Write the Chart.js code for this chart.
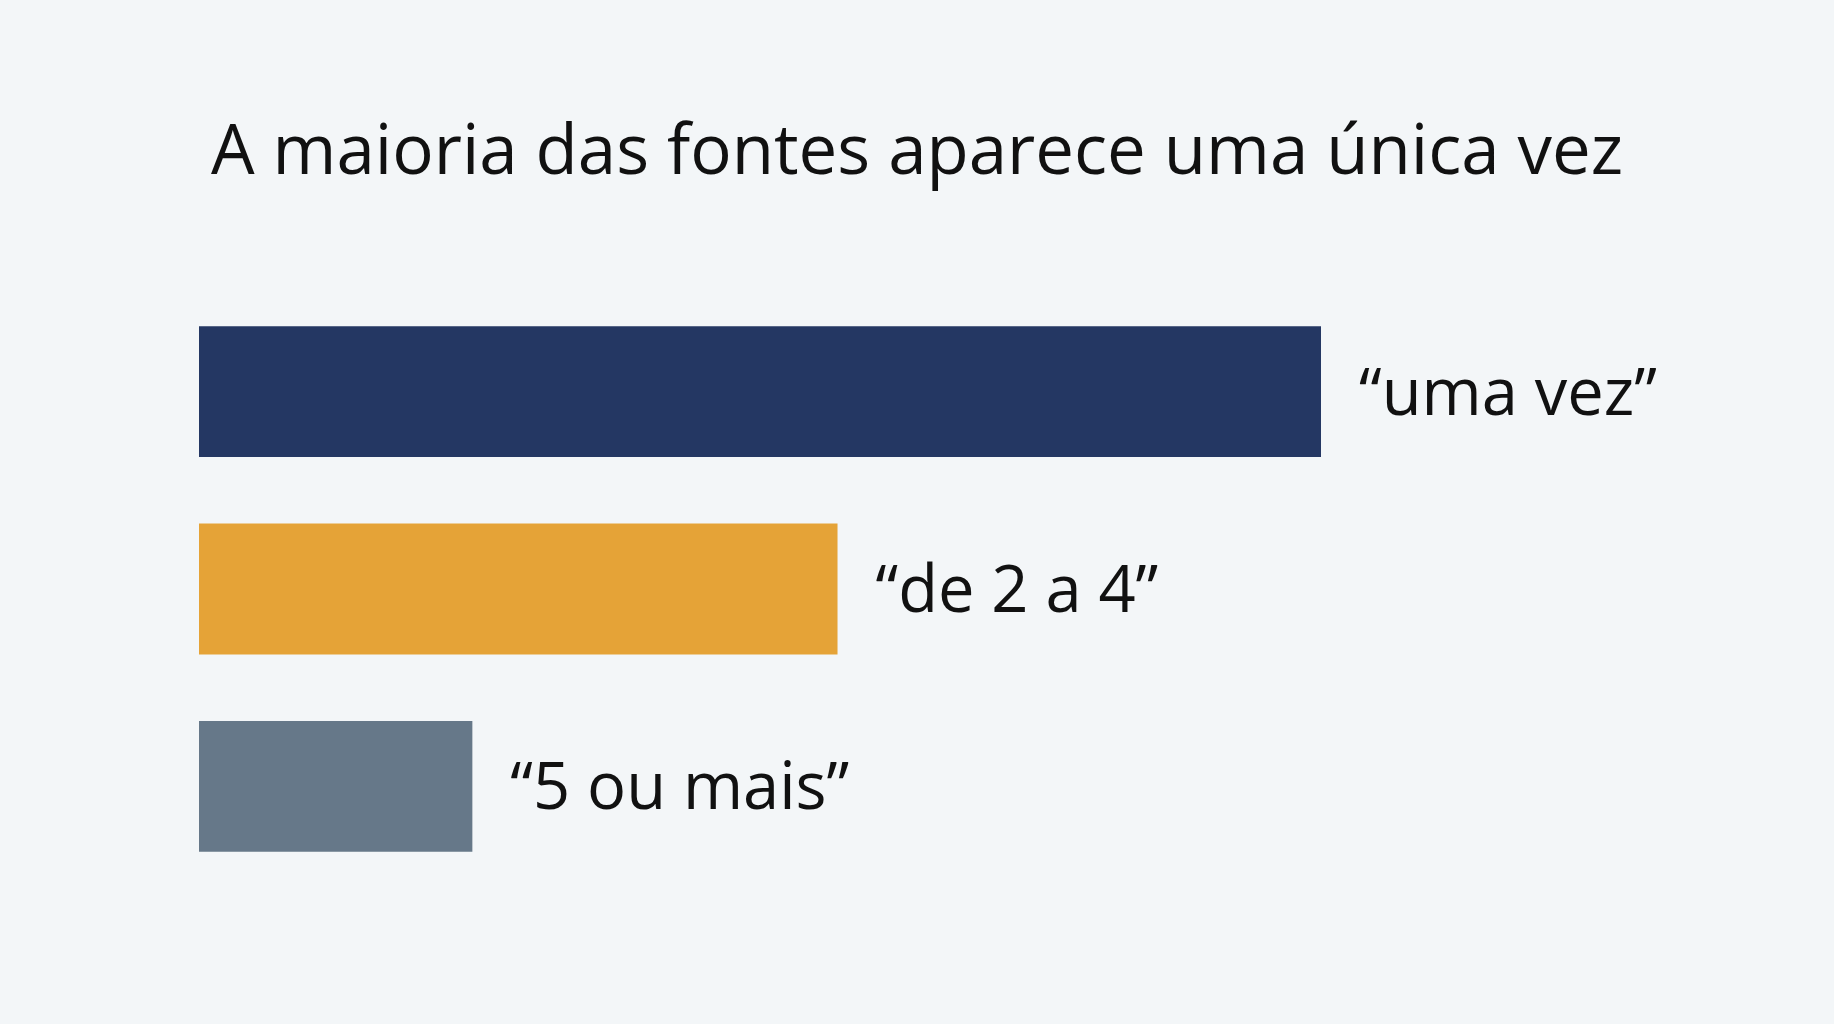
<!DOCTYPE html>
<html>
<head>
<meta charset="utf-8">
<script src="https://cdn.jsdelivr.net/npm/chart.js@4"></script>
<style>
  html, body { margin: 0; padding: 0; background: #f3f6f8; }
  #wrap { width: 1834px; height: 1024px; }
</style>
</head>
<body>
<div id="wrap"><canvas id="myChart" width="1834" height="1024"></canvas></div>
<script>
const chartTitle = 'A maioria das fontes aparece uma única vez';
const categories = ['“uma vez”', '“de 2 a 4”', '“5 ou mais”'];
const shares = [55, 31.3, 13.4];
const barColors = ['#243763', '#e5a337', '#667889'];

// title sits a little to the right of the bars, so draw it ourselves
const slideTitle = {
    id: 'slideTitle',
    afterDraw(chart) {
        const { ctx } = chart;
        ctx.save();
        ctx.font = '400 69px "Open Sans"';
        ctx.fillStyle = '#111111';
        ctx.textBaseline = 'alphabetic';
        ctx.textAlign = 'left';
        ctx.fillText(chartTitle, chart.chartArea.left + 12, 174);
        ctx.restore();
    }
};

// labels next to each bar, drawn from the bar element position
const barLabels = {
    id: 'barLabels',
    afterDatasetsDraw(chart) {
        const { ctx } = chart;
        const meta = chart.getDatasetMeta(0);
        ctx.save();
        ctx.font = '400 65px "Open Sans"';
        ctx.fillStyle = '#111111';
        ctx.textBaseline = 'alphabetic';
        ctx.textAlign = 'left';
        meta.data.forEach((bar, i) => {
            ctx.fillText(categories[i], bar.x + 38, bar.y + 23);
        });
        ctx.restore();
    }
};

const ctx = document.getElementById('myChart');
const myChart = new Chart(ctx, {
    type: 'bar',
    data: {
        labels: categories,
        datasets: [{
            data: shares,
            backgroundColor: barColors,
            borderWidth: 0,
            categoryPercentage: 1,
            barPercentage: 0.663
        }]
    },
    options: {
        indexAxis: 'y',
        responsive: false,
        animation: false,
        devicePixelRatio: 1,
        layout: {
            padding: { left: 199, right: 3, top: 293, bottom: 139 }
        },
        scales: {
            x: { display: false, min: 0, max: 80 },
            y: { display: false }
        },
        plugins: {
            legend: { display: false },
            tooltip: { enabled: false },
            title: { display: false }
        }
    },
    plugins: [barLabels, slideTitle]
});
</script>
</body>
</html>
